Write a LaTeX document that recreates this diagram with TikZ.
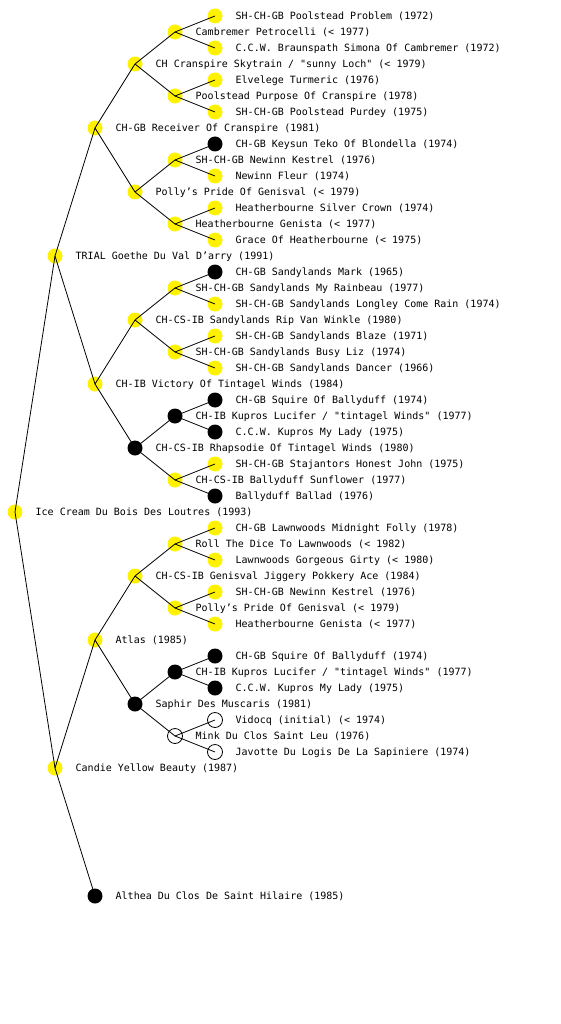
\documentclass[tikz,border=0pt]{standalone}
\usepackage{fontspec}
\newfontfamily\lab{DejaVu Sans Mono}
\begin{document}
\begin{tikzpicture}[x=1pt,y=-1pt,
  yn/.style={circle,fill=yellow,minimum size=15pt,inner sep=0pt},
  bn/.style={circle,fill=black,minimum size=15pt,inner sep=0pt},
  wn/.style={circle,draw=black,fill=white,line width=0.8pt,minimum size=15pt,inner sep=0pt},
  tx/.style={anchor=base west,inner sep=0pt,yshift=-3.6pt,font=\lab\fontsize{10}{12}\selectfont},
  ed/.style={line width=0.8pt,black}]
\useasboundingbox[fill=white] (0,0) rectangle (560,1024);
% markers
\node[yn] (n16)  at (215,16)  {};
\node[yn] (n32)  at (175,32)  {};
\node[yn] (n48)  at (215,48)  {};
\node[yn] (n64)  at (135,64)  {};
\node[yn] (n80)  at (215,80)  {};
\node[yn] (n96)  at (175,96)  {};
\node[yn] (n112) at (215,112) {};
\node[yn] (n128) at (95,128)  {};
\node[bn] (n144) at (215,144) {};
\node[yn] (n160) at (175,160) {};
\node[yn] (n176) at (215,176) {};
\node[yn] (n192) at (135,192) {};
\node[yn] (n208) at (215,208) {};
\node[yn] (n224) at (175,224) {};
\node[yn] (n240) at (215,240) {};
\node[yn] (n256) at (55,256)  {};
\node[bn] (n272) at (215,272) {};
\node[yn] (n288) at (175,288) {};
\node[yn] (n304) at (215,304) {};
\node[yn] (n320) at (135,320) {};
\node[yn] (n336) at (215,336) {};
\node[yn] (n352) at (175,352) {};
\node[yn] (n368) at (215,368) {};
\node[yn] (n384) at (95,384)  {};
\node[bn] (n400) at (215,400) {};
\node[bn] (n416) at (175,416) {};
\node[bn] (n432) at (215,432) {};
\node[bn] (n448) at (135,448) {};
\node[yn] (n464) at (215,464) {};
\node[yn] (n480) at (175,480) {};
\node[bn] (n496) at (215,496) {};
\node[yn] (n512) at (15,512)  {};
\node[yn] (n528) at (215,528) {};
\node[yn] (n544) at (175,544) {};
\node[yn] (n560) at (215,560) {};
\node[yn] (n576) at (135,576) {};
\node[yn] (n592) at (215,592) {};
\node[yn] (n608) at (175,608) {};
\node[yn] (n624) at (215,624) {};
\node[yn] (n640) at (95,640)  {};
\node[bn] (n656) at (215,656) {};
\node[bn] (n672) at (175,672) {};
\node[bn] (n688) at (215,688) {};
\node[bn] (n704) at (135,704) {};
\node[wn] (n720) at (215,720) {};
\node[wn] (n736) at (175,736) {};
\node[wn] (n752) at (215,752) {};
\node[yn] (n768) at (55,768)  {};
\node[bn] (n896) at (95,896)  {};
% labels
\node[tx] (t16)  at (235.5,16)  {SH-CH-GB Poolstead Problem (1972)};
\node[tx] (t32)  at (195.5,32)  {Cambremer Petrocelli (< 1977)};
\node[tx] (t48)  at (235.5,48)  {C.C.W. Braunspath Simona Of Cambremer (1972)};
\node[tx] (t64)  at (155.5,64)  {CH Cranspire Skytrain / "sunny Loch" (< 1979)};
\node[tx] (t80)  at (235.5,80)  {Elvelege Turmeric (1976)};
\node[tx] (t96)  at (195.5,96)  {Poolstead Purpose Of Cranspire (1978)};
\node[tx] (t112) at (235.5,112) {SH-CH-GB Poolstead Purdey (1975)};
\node[tx] (t128) at (115.5,128) {CH-GB Receiver Of Cranspire (1981)};
\node[tx] (t144) at (235.5,144) {CH-GB Keysun Teko Of Blondella (1974)};
\node[tx] (t160) at (195.5,160) {SH-CH-GB Newinn Kestrel (1976)};
\node[tx] (t176) at (235.5,176) {Newinn Fleur (1974)};
\node[tx] (t192) at (155.5,192) {Polly’s Pride Of Genisval (< 1979)};
\node[tx] (t208) at (235.5,208) {Heatherbourne Silver Crown (1974)};
\node[tx] (t224) at (195.5,224) {Heatherbourne Genista (< 1977)};
\node[tx] (t240) at (235.5,240) {Grace Of Heatherbourne (< 1975)};
\node[tx] (t256) at (75.5,256)  {TRIAL Goethe Du Val D’arry (1991)};
\node[tx] (t272) at (235.5,272) {CH-GB Sandylands Mark (1965)};
\node[tx] (t288) at (195.5,288) {SH-CH-GB Sandylands My Rainbeau (1977)};
\node[tx] (t304) at (235.5,304) {SH-CH-GB Sandylands Longley Come Rain (1974)};
\node[tx] (t320) at (155.5,320) {CH-CS-IB Sandylands Rip Van Winkle (1980)};
\node[tx] (t336) at (235.5,336) {SH-CH-GB Sandylands Blaze (1971)};
\node[tx] (t352) at (195.5,352) {SH-CH-GB Sandylands Busy Liz (1974)};
\node[tx] (t368) at (235.5,368) {SH-CH-GB Sandylands Dancer (1966)};
\node[tx] (t384) at (115.5,384) {CH-IB Victory Of Tintagel Winds (1984)};
\node[tx] (t400) at (235.5,400) {CH-GB Squire Of Ballyduff (1974)};
\node[tx] (t416) at (195.5,416) {CH-IB Kupros Lucifer / "tintagel Winds" (1977)};
\node[tx] (t432) at (235.5,432) {C.C.W. Kupros My Lady (1975)};
\node[tx] (t448) at (155.5,448) {CH-CS-IB Rhapsodie Of Tintagel Winds (1980)};
\node[tx] (t464) at (235.5,464) {SH-CH-GB Stajantors Honest John (1975)};
\node[tx] (t480) at (195.5,480) {CH-CS-IB Ballyduff Sunflower (1977)};
\node[tx] (t496) at (235.5,496) {Ballyduff Ballad (1976)};
\node[tx] (t512) at (35.5,512)  {Ice Cream Du Bois Des Loutres (1993)};
\node[tx] (t528) at (235.5,528) {CH-GB Lawnwoods Midnight Folly (1978)};
\node[tx] (t544) at (195.5,544) {Roll The Dice To Lawnwoods (< 1982)};
\node[tx] (t560) at (235.5,560) {Lawnwoods Gorgeous Girty (< 1980)};
\node[tx] (t576) at (155.5,576) {CH-CS-IB Genisval Jiggery Pokkery Ace (1984)};
\node[tx] (t592) at (235.5,592) {SH-CH-GB Newinn Kestrel (1976)};
\node[tx] (t608) at (195.5,608) {Polly’s Pride Of Genisval (< 1979)};
\node[tx] (t624) at (235.5,624) {Heatherbourne Genista (< 1977)};
\node[tx] (t640) at (115.5,640) {Atlas (1985)};
\node[tx] (t656) at (235.5,656) {CH-GB Squire Of Ballyduff (1974)};
\node[tx] (t672) at (195.5,672) {CH-IB Kupros Lucifer / "tintagel Winds" (1977)};
\node[tx] (t688) at (235.5,688) {C.C.W. Kupros My Lady (1975)};
\node[tx] (t704) at (155.5,704) {Saphir Des Muscaris (1981)};
\node[tx] (t720) at (235.5,720) {Vidocq (initial) (< 1974)};
\node[tx] (t736) at (195.5,736) {Mink Du Clos Saint Leu (1976)};
\node[tx] (t752) at (235.5,752) {Javotte Du Logis De La Sapiniere (1974)};
\node[tx] (t768) at (75.5,768)  {Candie Yellow Beauty (1987)};
\node[tx] (t896) at (115.5,896) {Althea Du Clos De Saint Hilaire (1985)};
% connectors
\foreach \p/\a/\b in {512/256/768, 256/128/384, 768/640/896,
  128/64/192, 384/320/448, 640/576/704,
  64/32/96, 192/160/224, 320/288/352, 448/416/480, 576/544/608, 704/672/736,
  32/16/48, 96/80/112, 160/144/176, 224/208/240, 288/272/304, 352/336/368,
  416/400/432, 480/464/496, 544/528/560, 608/592/624, 672/656/688, 736/720/752}
  {\draw[ed] (n\p.center) -- (n\a.center); \draw[ed] (n\p.center) -- (n\b.center);}
\end{tikzpicture}
\end{document}
